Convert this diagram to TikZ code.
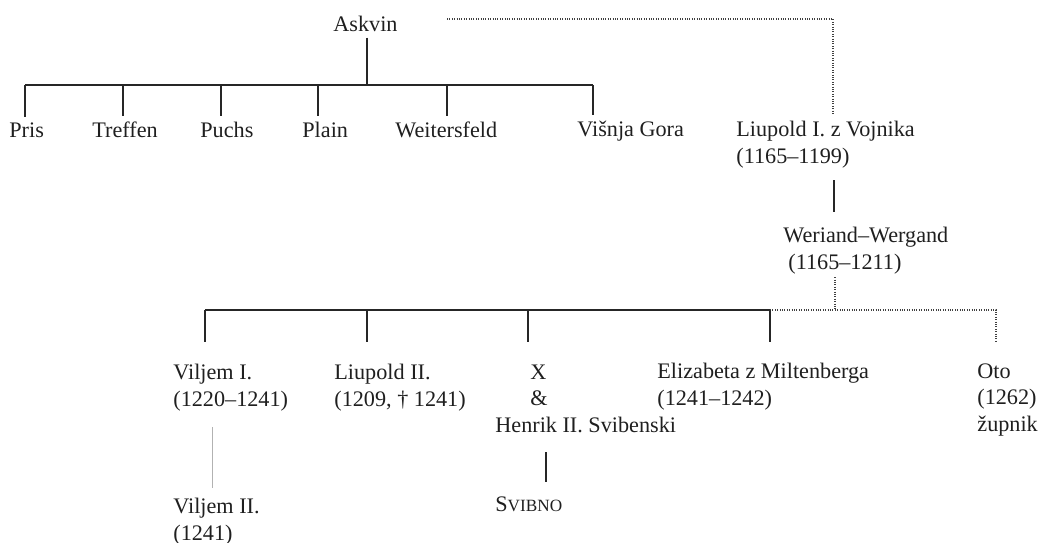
\documentclass[tikz,border=0pt]{standalone}
\usepackage{fontspec}
\setmainfont{Liberation Serif}
\newcommand{\myfont}{\fontsize{11.1pt}{13.25pt}\selectfont}
\begin{document}
\begin{tikzpicture}[x=0.5pt,y=-0.5pt,
  every node/.style={inner sep=0pt, anchor=base west, align=left, font=\myfont, text=black!88},
  ln/.style={line width=0.8pt, draw=black!85},
  dot/.style={line width=0.75pt, draw=black!75, dash pattern=on 0.5pt off 0.7pt},
  faint/.style={line width=0.45pt, draw=black!30}]
\useasboundingbox (0,0) rectangle (1041,542);
% nodes (anchor = baseline of the last line)
\node (askvin) at (333,31) {Askvin};
\node (pris) at (9,137) {Pris};
\node (treffen) at (92,137) {Treffen};
\node (puchs) at (200,137) {Puchs};
\node (plain) at (302,137) {Plain};
\node (weiters) at (395,137) {Weitersfeld};
\node (visnja) at (577,136) {Višnja Gora};
\node (liup1) at (736,163) {Liupold I. z Vojnika\\(1165–1199)};
\node (weriand) at (783,269) {Weriand–Wergand\\\hspace*{2.5pt}(1165–1211)};
\node (vilj1) at (173,406) {Viljem I.\\(1220–1241)};
\node (liup2) at (334,406) {Liupold II.\\(1209, † 1241)};
\node (xh) at (495,432) {\hspace*{17.5pt}X\\\hspace*{17.5pt}\&\\Henrik II. Svibenski};
\node (eliz) at (657,405) {Elizabeta z Miltenberga\\(1241–1242)};
\node (oto) at (977,431) {Oto\\(1262)\\župnik};
\node (vilj2) at (173,540) {Viljem II.\\(1241)};
\node (svibno) at (495,511) {S{\fontsize{8.6pt}{10pt}\selectfont VIBNO}};
% coordinates
\coordinate (topbar) at (367,85);
\coordinate (d1) at (25,85);
\coordinate (d2) at (123,85);
\coordinate (d3) at (221,85);
\coordinate (d4) at (318,85);
\coordinate (d5) at (447,85);
\coordinate (d6) at (593,85);
\coordinate (dotS) at (447,19);
\coordinate (dotC) at (833,19);
\coordinate (lv) at (834,180);
\coordinate (wc) at (835,310);
\coordinate (bb1) at (205,310);
\coordinate (bb2) at (367,310);
\coordinate (bb3) at (528,310);
\coordinate (bb4) at (770,310);
\coordinate (bb5) at (996,310);
\coordinate (vl) at (212,427);
\coordinate (sv) at (546,452);
% connectors
\draw[ln] (askvin.south -| topbar) ++(0,6) -- (topbar);
\draw[ln] (d1) -- (d6);
\foreach \c/\n in {d1/pris,d2/treffen,d3/puchs,d4/plain,d5/weiters,d6/visnja}
  \draw[ln, shorten >=2.5pt] (\c) -- (\c |- \n.north);
\draw[dot] (dotS) -- (dotC) -- ([yshift=3pt]dotC |- liup1.north);
\draw[ln] (lv) -- ([yshift=7.5pt]lv |- weriand.north);
\draw[dot] ([yshift=-1.5pt]weriand.south -| wc) -- (wc);
\draw[ln] (bb1) -- (bb4);
\draw[dot] (bb4) -- (bb5) -- ++(0,32);
\foreach \c in {bb1,bb2,bb3,bb4}
  \draw[ln] (\c) -- ++(0,32);
\draw[faint] (vl) -- ([yshift=5pt]vl |- vilj2.north);
\draw[ln] (sv) -- ([yshift=7pt]sv |- svibno.north);
\end{tikzpicture}
\end{document}
